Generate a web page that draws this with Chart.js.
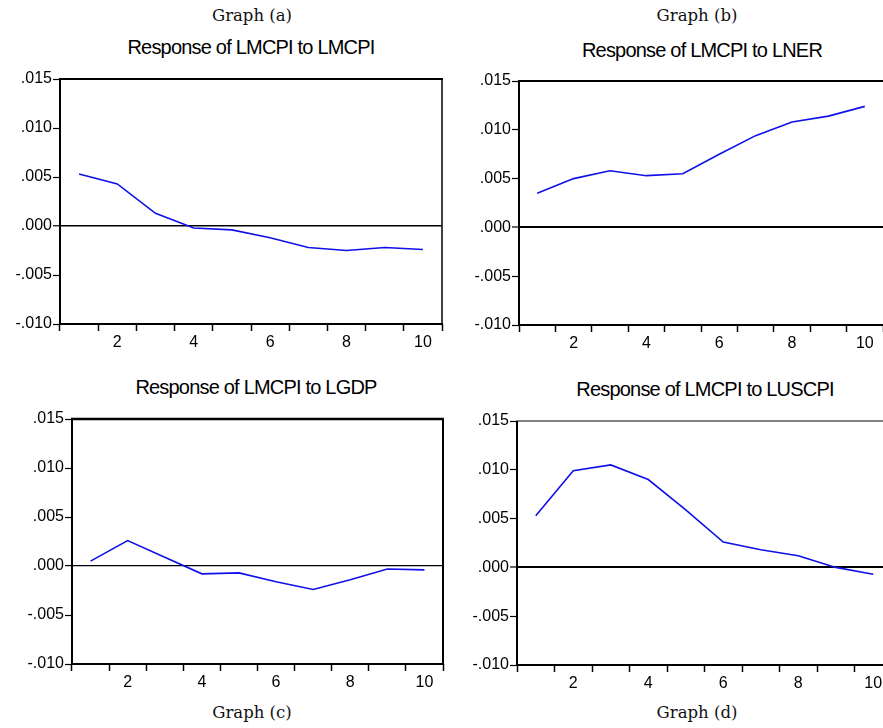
<!DOCTYPE html>
<html>
<head>
<meta charset="utf-8">
<script src="https://cdn.jsdelivr.net/npm/chart.js@4.4.1/dist/chart.umd.min.js"></script>
<style>
  html, body { margin: 0; padding: 0; background: #fff; width: 883px; height: 728px; overflow: hidden; }
  .wrap { position: absolute; }
  .title { position: absolute; width: 400px; text-align: center; font-family: "Liberation Sans", Arial, sans-serif;
           font-size: 20px; letter-spacing: -0.8px; color: #000; line-height: 1; }
  .caption { position: absolute; width: 200px; text-align: center; font-family: "DejaVu Serif", serif;
             font-size: 16.5px; color: #111; line-height: 1; }
</style>
</head>
<body>
<div class="caption" style="left:152px; top:8px;">Graph (a)</div>
<div class="caption" style="left:597px; top:8px;">Graph (b)</div>
<div class="caption" style="left:152px; top:705px;">Graph (c)</div>
<div class="caption" style="left:597px; top:705px;">Graph (d)</div>

<div class="title" style="left:51px; top:37px;">Response of LMCPI to LMCPI</div>
<div class="title" style="left:502px; top:40px;">Response of LMCPI to LNER</div>
<div class="title" style="left:56px; top:377px;">Response of LMCPI to LGDP</div>
<div class="title" style="left:505px; top:379px;">Response of LMCPI to LUSCPI</div>

<div class="wrap" id="wa"><canvas id="chartA"></canvas></div>
<div class="wrap" id="wb"><canvas id="chartB"></canvas></div>
<div class="wrap" id="wc"><canvas id="chartC"></canvas></div>
<div class="wrap" id="wd"><canvas id="chartD"></canvas></div>

<script>
// periods after the shock
const periods = ['1', '2', '3', '4', '5', '6', '7', '8', '9', '10'];

// impulse responses of LMCPI
const respLMCPI  = [0.0053, 0.0043, 0.0013, -0.0002, -0.0004, -0.0012, -0.0022, -0.0025, -0.0022, -0.0024];
const respLNER   = [0.0035, 0.0050, 0.0058, 0.0053, 0.0055, 0.0075, 0.0094, 0.0108, 0.0114, 0.0124];
const respLGDP   = [0.0005, 0.0026, 0.0009, -0.0008, -0.0007, -0.0016, -0.0024, -0.0014, -0.0003, -0.0004];
const respLUSCPI = [0.0053, 0.0099, 0.0105, 0.0090, 0.0059, 0.0026, 0.0018, 0.0012, 0.0000, -0.0007];

// y axis range and step
const yMin = -0.010;
const yMax = 0.015;
const yStep = 0.005;

// draws the box round the plot area
const framePlugin = {
    id: 'frame',
    afterDraw(chart, args, opts) {
        const a = chart.chartArea;
        const c = chart.ctx;
        const w = opts.widths || [2, 2, 2, 2]; // top, right, bottom, left
        c.save();
        c.strokeStyle = '#000';
        const side = (x1, y1, x2, y2, lw) => {
            if (!lw) return;
            c.lineWidth = lw;
            c.beginPath();
            c.moveTo(x1, y1);
            c.lineTo(x2, y2);
            c.stroke();
        };
        side(a.left - 1, a.top, a.right + 1, a.top, w[0]);
        side(a.right, a.top, a.right, a.bottom, w[1]);
        side(a.left - 1, a.bottom, a.right + 1, a.bottom, w[2]);
        side(a.left, a.top, a.left, a.bottom + 1, w[3]);
        c.restore();
    }
};

function fmtTick(v) {
    return v.toFixed(3).replace('0.', '.');
}

function makePanel(wrapId, canvasId, box, values, frameWidths, zeroWidth) {
    const yw = 60, padTop = 12, xh = 34, padRight = 4;
    const wrap = document.getElementById(wrapId);
    const canvas = document.getElementById(canvasId);
    const w = yw + (box.r - box.l) + padRight;
    const h = padTop + (box.b - box.t) + xh;
    wrap.style.left = (box.l - yw) + 'px';
    wrap.style.top = (box.t - padTop) + 'px';
    canvas.width = w;
    canvas.height = h;
    canvas.style.width = w + 'px';
    canvas.style.height = h + 'px';

    return new Chart(canvas.getContext('2d'), {
        type: 'line',
        data: {
            labels: periods,
            datasets: [{
                data: values,
                borderColor: '#1010e8',
                borderWidth: 1.6,
                pointRadius: 0,
                tension: 0,
                fill: false
            }]
        },
        plugins: [framePlugin],
        options: {
            responsive: false,
            devicePixelRatio: 1,
            animation: false,
            layout: {
                padding: { top: padTop, right: padRight, bottom: 0, left: 0 }
            },
            plugins: {
                legend: { display: false },
                tooltip: { enabled: false },
                frame: { widths: frameWidths }
            },
            scales: {
                x: {
                    type: 'category',
                    offset: true,
                    afterFit: function(scale) { scale.height = xh; },
                    border: { display: false },
                    grid: {
                        offset: true,
                        drawOnChartArea: false,
                        drawTicks: true,
                        tickLength: 7,
                        tickColor: '#000',
                        tickWidth: 1.5,
                        color: '#000'
                    },
                    ticks: {
                        autoSkip: false,
                        maxRotation: 0,
                        padding: 2,
                        color: '#000',
                        font: { family: '"Liberation Sans", Arial, sans-serif', size: 16 },
                        callback: function(val, idx) {
                            return (idx + 1) % 2 === 0 ? periods[idx] : '';
                        }
                    }
                },
                y: {
                    min: yMin,
                    max: yMax,
                    afterFit: function(scale) { scale.width = yw; },
                    border: { display: false },
                    grid: {
                        drawTicks: true,
                        tickLength: 7,
                        tickColor: '#000',
                        tickWidth: 1.2,
                        color: function(ctx) {
                            return Math.abs(ctx.tick.value) < 1e-9 ? '#000' : 'rgba(0,0,0,0)';
                        },
                        lineWidth: function(ctx) {
                            return Math.abs(ctx.tick.value) < 1e-9 ? zeroWidth : 1;
                        }
                    },
                    ticks: {
                        stepSize: yStep,
                        padding: 1,
                        color: '#000',
                        font: { family: '"Liberation Sans", Arial, sans-serif', size: 16 },
                        callback: function(v) { return fmtTick(v); }
                    }
                }
            }
        }
    });
}

makePanel('wa', 'chartA', { l: 60, t: 79, r: 442, b: 324 }, respLMCPI, [2, 1.5, 2, 2], 1.5);
makePanel('wb', 'chartB', { l: 519, t: 81, r: 883, b: 325 }, respLNER, [2, 0, 2, 2], 2);
makePanel('wc', 'chartC', { l: 72, t: 419, r: 443, b: 664 }, respLGDP, [2.5, 2, 2, 2], 1.2);
makePanel('wd', 'chartD', { l: 517, t: 421, r: 892, b: 665 }, respLUSCPI, [1, 0, 2, 2], 2);
</script>
</body>
</html>
